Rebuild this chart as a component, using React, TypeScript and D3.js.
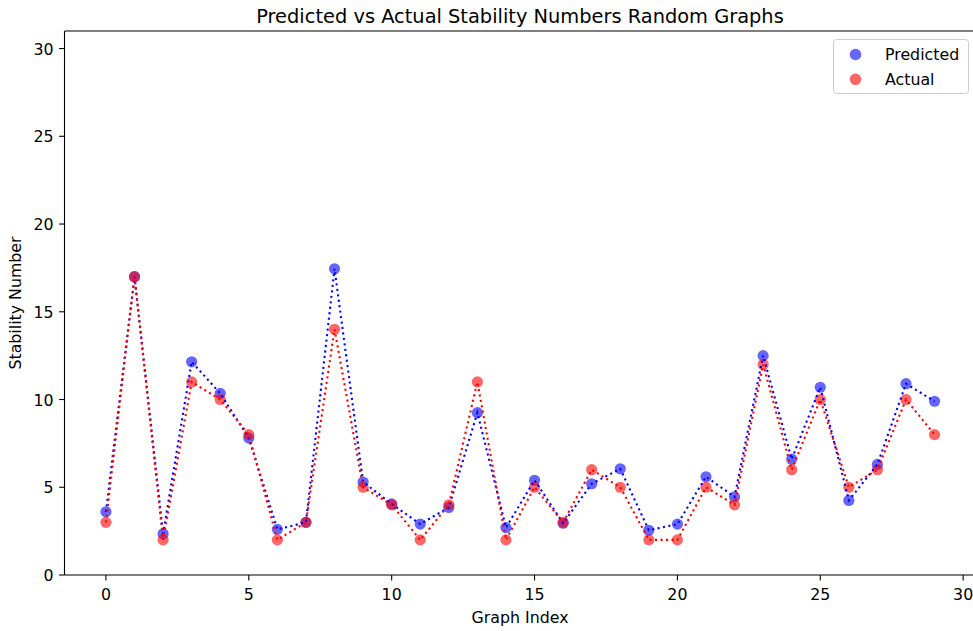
import * as d3 from 'd3';

const graphIndex = d3.range(30);

const predicted = [
  3.6, 17.0, 2.35, 12.15, 10.35, 7.8, 2.6, 3.0, 17.45, 5.3,
  4.05, 2.9, 3.85, 9.25, 2.7, 5.4, 2.95, 5.2, 6.05, 2.55,
  2.9, 5.6, 4.45, 12.5, 6.6, 10.7, 4.25, 6.3, 10.9, 9.9,
];

const actual = [
  3, 17, 2, 11, 10, 8, 2, 3, 14, 5,
  4, 2, 4, 11, 2, 5, 3, 6, 5, 2,
  2, 5, 4, 12, 6, 10, 5, 6, 10, 8,
];

const xTicks = [0, 5, 10, 15, 20, 25, 30];
const yTicks = [0, 5, 10, 15, 20, 25, 30];

const series = [
  { name: 'Predicted', values: predicted, color: '#0000ff' },
  { name: 'Actual', values: actual, color: '#ff0000' },
];

const W = 973;
const H = 631;
const margin = { top: 31, right: -3, bottom: 56, left: 64.5 };
const font = '"DejaVu Sans", sans-serif';
const labelSize = 15.8;

export default function App() {
  const x = d3.scaleLinear()
    .domain([-1.45, 30.45])
    .range([margin.left, W - margin.right]);

  const y = d3.scaleLinear()
    .domain([0, 31])
    .range([H - margin.bottom, margin.top]);

  const line = d3.line<number>()
    .x((_, i) => x(graphIndex[i]))
    .y(d => y(d));

  const x0 = x.range()[0];
  const x1 = x.range()[1];
  const y0 = y.range()[0];
  const y1 = y.range()[1];

  return (
    <svg
      width={W}
      height={H}
      style={{ position: 'absolute', left: 0, top: 0, background: '#fff' }}
      fontFamily={font}
    >
      <text x={520} y={22.5} fontSize={19.4} textAnchor="middle" fill="#000">
        Predicted vs Actual Stability Numbers Random Graphs
      </text>

      {/* scatter points */}
      {series.map(s => (
        <g key={s.name}>
          {s.values.map((v, i) => (
            <circle
              key={i}
              cx={x(graphIndex[i])}
              cy={y(v)}
              r={5.6}
              fill={s.color}
              fillOpacity={0.6}
            />
          ))}
        </g>
      ))}

      {/* dotted lines */}
      {series.map(s => (
        <path
          key={s.name}
          d={line(s.values) || ''}
          fill="none"
          stroke={s.color}
          strokeWidth={2.1}
          strokeDasharray="2.1,3.4"
        />
      ))}

      {/* spines */}
      <line x1={x0} x2={x0} y1={y1} y2={y0} stroke="#000" strokeWidth={1.1} />
      <line x1={x0} x2={x1} y1={y0} y2={y0} stroke="#000" strokeWidth={1.1} />
      <line x1={x0} x2={x1} y1={y1} y2={y1} stroke="#000" strokeWidth={1.1} />
      <line x1={x1} x2={x1} y1={y1} y2={y0} stroke="#000" strokeWidth={1.1} />

      {/* x axis */}
      {xTicks.map(t => (
        <g key={t} transform={`translate(${x(t)},${y0})`}>
          <line y2={5.4} stroke="#000" strokeWidth={1.1} />
          <text y={24.5} fontSize={labelSize} textAnchor="middle" fill="#000">{t}</text>
        </g>
      ))}
      <text x={520} y={623} fontSize={labelSize} textAnchor="middle" fill="#000">
        Graph Index
      </text>

      {/* y axis */}
      {yTicks.map(t => (
        <g key={t} transform={`translate(${x0},${y(t)})`}>
          <line x2={-5.4} stroke="#000" strokeWidth={1.1} />
          <text x={-11} y={6} fontSize={labelSize} textAnchor="end" fill="#000">{t}</text>
        </g>
      ))}
      <text
        transform={`translate(20.5,${(y0 + y1) / 2}) rotate(-90)`}
        fontSize={labelSize}
        textAnchor="middle"
        fill="#000"
      >
        Stability Number
      </text>

      {/* legend */}
      <g transform="translate(833.5,39.5)">
        <rect width={135} height={54} rx={3} fill="#fff" fillOpacity={0.8} stroke="#cccccc" />
        {series.map((s, i) => (
          <g key={s.name} transform={`translate(0,${15 + i * 24.8})`}>
            <circle cx={22} cy={0} r={5.8} fill={s.color} fillOpacity={0.6} />
            <text x={51.5} y={5.6} fontSize={labelSize} fill="#000">{s.name}</text>
          </g>
        ))}
      </g>
    </svg>
  );
}
